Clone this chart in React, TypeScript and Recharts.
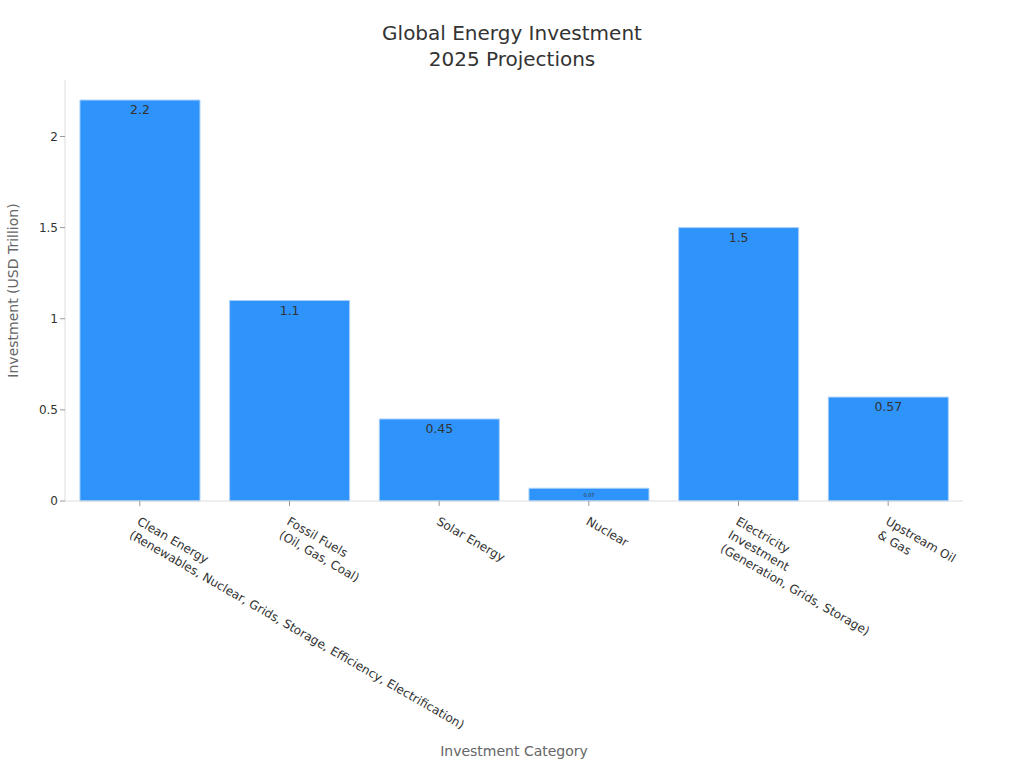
import React from "react";
import { BarChart, Bar, XAxis, YAxis, LabelList } from "recharts";

// ---------------------------------------------------------------------------
// Data
// ---------------------------------------------------------------------------

const categories = [
  "Clean Energy\n(Renewables, Nuclear, Grids, Storage, Efficiency, Electrification)",
  "Fossil Fuels\n(Oil, Gas, Coal)",
  "Solar Energy",
  "Nuclear",
  "Electricity\nInvestment\n(Generation, Grids, Storage)",
  "Upstream Oil\n& Gas",
];

const investment = [2.2, 1.1, 0.45, 0.07, 1.5, 0.57];

const yTicks = [0, 0.5, 1, 1.5, 2];

const chartData = categories.map((name, i) => ({ name, value: investment[i] }));

const FONT = "'DejaVu Sans', Verdana, sans-serif";

// ---------------------------------------------------------------------------
// Custom pieces
// ---------------------------------------------------------------------------

function RotatedTick({ x, y, payload }: any) {
  const lines = String(payload.value).split("\n");
  return (
    <g transform={`translate(${x + 1},${y + 8}) rotate(30)`}>
      <text
        x={0}
        y={0}
        textAnchor="start"
        fill="#333"
        fontSize={12}
        fontFamily={FONT}
      >
        {lines.map((line, i) => (
          <tspan key={i} x={0} dy={i === 0 ? "0.75em" : "1.3em"}>
            {line}
          </tspan>
        ))}
      </text>
    </g>
  );
}

function BarValueLabel({ x, y, width, height, value }: any) {
  const small = height < 20;
  return (
    <text
      x={x + width / 2}
      y={small ? y + height / 2 + 2 : y + 14}
      textAnchor="middle"
      fill="#333"
      fontSize={small ? 5 : 12.5}
      fontFamily={FONT}
    >
      {value}
    </text>
  );
}

// ---------------------------------------------------------------------------
// App
// ---------------------------------------------------------------------------

export default function App() {
  return (
    <div
      style={{
        position: "absolute",
        left: 0,
        top: 0,
        width: 1024,
        height: 768,
        background: "#fff",
        fontFamily: FONT,
      }}
    >
      <div
        style={{
          position: "absolute",
          top: 20,
          left: 0,
          width: 1024,
          textAlign: "center",
          fontSize: 20,
          lineHeight: "26px",
          color: "#333",
        }}
      >
        Global Energy Investment
        <br />
        2025 Projections
      </div>
      <BarChart
        width={1024}
        height={768}
        data={chartData}
        margin={{ top: 80, right: 61, left: 0, bottom: 36 }}
        barCategoryGap="10%"
      >
        <XAxis
          dataKey="name"
          interval={0}
          height={231}
          tick={<RotatedTick />}
          tickLine={{ stroke: "#999" }}
          tickSize={5}
          axisLine={{ stroke: "#ddd" }}
          label={{
            value: "Investment Category",
            position: "insideBottom",
            offset: -24,
            fill: "#666",
            fontSize: 14,
            fontFamily: FONT,
          }}
        />
        <YAxis
          width={65}
          domain={[0, 2.31]}
          ticks={yTicks}
          tick={{ fill: "#333", fontSize: 12, fontFamily: FONT }}
          tickLine={{ stroke: "#999" }}
          tickSize={5}
          axisLine={{ stroke: "#ddd" }}
          label={{
            value: "Investment (USD Trillion)",
            angle: -90,
            position: "insideLeft",
            offset: 13,
            style: { textAnchor: "middle" },
            fill: "#666",
            fontSize: 14,
            fontFamily: FONT,
          }}
        />
        <Bar
          dataKey="value"
          fill="#2e93fa"
          stroke="#a8d0fb"
          strokeWidth={1}
          isAnimationActive={false}
        >
          <LabelList dataKey="value" content={<BarValueLabel />} />
        </Bar>
      </BarChart>
    </div>
  );
}
